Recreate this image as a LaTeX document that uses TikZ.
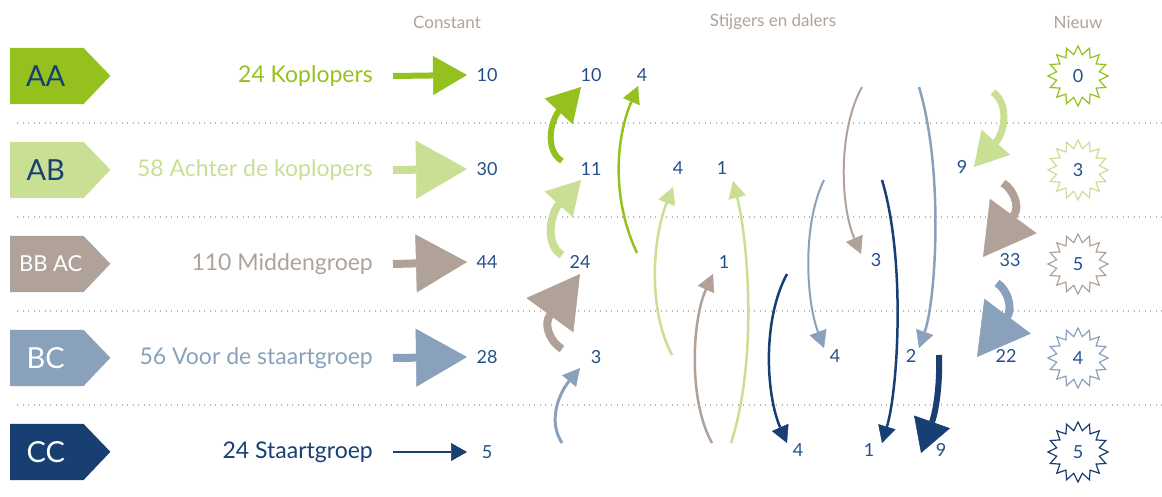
\documentclass[tikz,border=0pt]{standalone}
\usepackage{fontspec}
\setmainfont{Lato}
\usepackage{tikz}
\usetikzlibrary{arrows.meta,positioning,shapes.geometric}
\definecolor{leafgreen}{HTML}{95C11F}
\definecolor{palegreen}{HTML}{C9DF94}
\definecolor{taupe}{HTML}{B0A298}
\definecolor{steel}{HTML}{8AA1BB}
\definecolor{navy}{HTML}{173F72}
\definecolor{numblue}{HTML}{24508A}
\definecolor{dotgray}{HTML}{BDB5AE}

\begin{document}
\begin{tikzpicture}[x=1pt,y=-1pt]
    \tikzset{
      tagbox/.style={minimum width=73pt,minimum height=56pt,inner sep=0pt,anchor=west},
      tagtext/.style={font=\fontsize{29}{29}\selectfont,text=#1,inner sep=0pt},
      grouplabel/.style={anchor=east,font=\fontsize{23}{23}\selectfont,text=#1,inner sep=0pt},
      num/.style={font=\fontsize{18}{18}\selectfont,text=numblue,inner sep=1pt},
      colhead/.style={font=\fontsize{17}{17}\selectfont,text=taupe},
      newstar/.style={star,star points=16,star point ratio=1.38,minimum size=60pt,draw=#1,line width=1.2pt,inner sep=0pt,font=\fontsize{18}{18}\selectfont,text=numblue},
      dotline/.style={dotgray,line width=1.3pt,dash pattern=on 1.3pt off 4.2pt},
      bigtip/.style={-{Triangle[length=51pt,width=58pt,line width=0.5pt]}},
      midtip/.style={-{Triangle[length=33pt,width=38pt,line width=0.5pt]}},
      thintip/.style={-{Triangle[length=17pt,width=18pt,line width=0.5pt]}}
    }
    \useasboundingbox (0,0) rectangle (1162,496);
    % column heads
    \node[colhead] (hconst) at (447,22) {Constant};
    \node[colhead] (hmove) at (773,22) {Stijgers en dalers};
    \node[colhead] (hnew) at (1078,22) {Nieuw};
    % separators
    \draw[dotline] (17,123) -- (1162,123);
    \draw[dotline] (17,217) -- (1162,217);
    \draw[dotline] (17,311) -- (1162,311);
    \draw[dotline] (17,405) -- (1162,405);
    % tags
    \node[tagbox] (tagAA) at (10,76) {};
    \node[tagbox] (tagAB) at (10,170) {};
    \node[tagbox] (tagBB) at (10,264) {};
    \node[tagbox] (tagBC) at (10,358) {};
    \node[tagbox] (tagCC) at (10,452) {};
    \fill[leafgreen] (tagAA.north west) -- (tagAA.north east) -- ++(27,28) -- (tagAA.south east) -- (tagAA.south west) -- cycle;
    \fill[palegreen] (tagAB.north west) -- (tagAB.north east) -- ++(27,28) -- (tagAB.south east) -- (tagAB.south west) -- cycle;
    \fill[taupe] (tagBB.north west) -- (tagBB.north east) -- ++(27,28) -- (tagBB.south east) -- (tagBB.south west) -- cycle;
    \fill[steel] (tagBC.north west) -- (tagBC.north east) -- ++(27,28) -- (tagBC.south east) -- (tagBC.south west) -- cycle;
    \fill[navy] (tagCC.north west) -- (tagCC.north east) -- ++(27,28) -- (tagCC.south east) -- (tagCC.south west) -- cycle;
    \node[tagtext=navy] (txtAA) at ([xshift=-1pt]tagAA.center) {AA};
    \node[tagtext=navy] (txtAB) at ([xshift=-1pt]tagAB.center) {AB};
    \node[tagtext=white,font=\fontsize{22}{22}\selectfont] (txtBB) at ([xshift=4pt]tagBB.center) {BB AC};
    \node[tagtext=white] (txtBC) at ([xshift=-1pt]tagBC.center) {BC};
    \node[tagtext=white] (txtCC) at ([xshift=-1pt]tagCC.center) {CC};
    % group labels
    \node[grouplabel=leafgreen] (labAA) at (373,76) {24 Koplopers};
    \node[grouplabel=palegreen] (labAB) at (373,170) {58 Achter de koplopers};
    \node[grouplabel=taupe] (labBB) at (373,264) {110 Middengroep};
    \node[grouplabel=steel] (labBC) at (373,358) {56 Voor de staartgroep};
    \node[grouplabel=navy] (labCC) at (373,452) {24 Staartgroep};
    % constant
    \node[num] (cAA) at (487,75) {10};
    \node[num] (cAB) at (487,169) {30};
    \node[num] (cBB) at (487,262) {44};
    \node[num] (cBC) at (487,357) {28};
    \node[num] (cCC) at (487,452) {5};
    \draw[leafgreen,line width=6pt,-{Triangle[length=34pt,width=39pt,line width=0.5pt]}] ([xshift=20pt]labAA.east) -- ([xshift=-20pt]cAA.center);
    \draw[palegreen,line width=8pt,bigtip] ([xshift=20pt]labAB.east) -- ([xshift=-20pt]cAB.center);
    \draw[taupe,line width=8pt,bigtip] ([xshift=20pt]labBB.east) -- ([xshift=-20pt]cBB.center);
    \draw[steel,line width=8pt,bigtip] ([xshift=20pt]labBC.east) -- ([xshift=-20pt]cBC.center);
    \draw[navy,line width=2.5pt,-{Triangle[length=16pt,width=18pt,line width=0.5pt]}] ([xshift=20pt]labCC.east) -- ([xshift=-20pt]cCC.center);
    % risers and fallers
    \node[num] (upAA) at (591,75) {10};
    \node[num] (upAAb) at (642,75) {4};
    \node[num] (upAB) at (591,169) {11};
    \node[num] (upABb) at (678,168) {4};
    \node[num] (upABc) at (722,168) {1};
    \node[num] (dnAB) at (962,167) {9};
    \node[num] (upBB) at (580,262) {24};
    \node[num] (upBBb) at (724,262) {1};
    \node[num] (dnBB) at (876,260) {3};
    \node[num] (dnBBb) at (1010,260) {33};
    \node[num] (upBC) at (596,357) {3};
    \node[num] (dnBC) at (835,356) {4};
    \node[num] (dnBCb) at (911,356) {2};
    \node[num] (dnBCc) at (1006,356) {22};
    \node[num] (dnCC) at (798,450) {4};
    \node[num] (dnCCb) at (869,450) {1};
    \node[num] (dnCCc) at (941,450) {9};
    \coordinate (a1s) at (562,161); \coordinate (a1e) at (581,87);
    \coordinate (a2s) at (562,255); \coordinate (a2e) at (581,180);
    \coordinate (a3s) at (562,349); \coordinate (a3e) at (580,274);
    \coordinate (a4s) at (562,443); \coordinate (a4e) at (580,368);
    \coordinate (a5s) at (637,253); \coordinate (a5e) at (638,86);
    \coordinate (a6s) at (672,355); \coordinate (a6e) at (673,187);
    \coordinate (a7s) at (731,443); \coordinate (a7e) at (733,181);
    \coordinate (a8s) at (712,443); \coordinate (a8e) at (713,274);
    \coordinate (d1s) at (787,274); \coordinate (d1e) at (787,443);
    \coordinate (d2s) at (824,180); \coordinate (d2e) at (824,348);
    \coordinate (d3s) at (862,87); \coordinate (d3e) at (861,254);
    \coordinate (d4s) at (882,180); \coordinate (d4e) at (882,443);
    \coordinate (d5s) at (919,87); \coordinate (d5e) at (919,348);
    \coordinate (d6s) at (939,355); \coordinate (d6e) at (921,453);
    \coordinate (d7s) at (993,92); \coordinate (d7e) at (974,167);
    \coordinate (d8s) at (1003,183); \coordinate (d8e) at (983,257);
    \coordinate (d9s) at (997,283); \coordinate (d9e) at (977,357);
    \draw[leafgreen,line width=6pt,midtip] (a1s) .. controls (544,150) and (551,120) .. (559,111) -- (a1e);
    \draw[palegreen,line width=8pt,midtip] (a2s) .. controls (544,244) and (551,213) .. (559,204) -- (a2e);
    \draw[taupe,line width=8pt,bigtip] (a3s) .. controls (548,340) and (544,323) .. (550,315) -- (a3e);
    \draw[steel,line width=3pt,thintip] (a4s) .. controls (547,420) and (560,392) .. (a4e);
    \draw[leafgreen,line width=2.5pt,thintip] (a5s) .. controls (612,200) and (615,140) .. (a5e);
    \draw[palegreen,line width=2.5pt,thintip] (a6s) .. controls (648,310) and (652,240) .. (a6e);
    \draw[palegreen,line width=2.5pt,thintip] (a7s) .. controls (758,360) and (748,240) .. (a7e);
    \draw[taupe,line width=2.5pt,thintip] (a8s) .. controls (688,400) and (692,320) .. (a8e);
    \draw[navy,line width=2.5pt,thintip] (d1s) .. controls (762,320) and (766,395) .. (d1e);
    \draw[steel,line width=2pt,thintip] (d2s) .. controls (802,225) and (806,300) .. (d2e);
    \draw[taupe,line width=2pt,thintip] (d3s) .. controls (838,130) and (840,205) .. (d3e);
    \draw[navy,line width=2.5pt,thintip] (d4s) .. controls (906,260) and (898,390) .. (d4e);
    \draw[steel,line width=2.5pt,thintip] (d5s) .. controls (944,170) and (936,300) .. (d5e);
    \draw[navy,line width=6pt,midtip] (d6s) .. controls (940,385) and (936,411) .. (932,422) -- (d6e);
    \draw[palegreen,line width=7pt,midtip] (d7s) .. controls (1010,105) and (1004,133) .. (996,142) -- (d7e);
    \draw[taupe,line width=8pt,bigtip] (d8s) .. controls (1014,190) and (1020,207) .. (1014,215) -- (d8e);
    \draw[steel,line width=8pt,bigtip] (d9s) .. controls (1008,290) and (1013,309) .. (1007,317) -- (d9e);
    % new
    \node[newstar=leafgreen] (newAA) at (1078,76) {0};
    \node[newstar=palegreen] (newAB) at (1078,170) {3};
    \node[newstar=taupe] (newBB) at (1078,264) {5};
    \node[newstar=steel] (newBC) at (1078,358) {4};
    \node[newstar=navy] (newCC) at (1078,452) {5};
  \end{tikzpicture}
\end{document}
